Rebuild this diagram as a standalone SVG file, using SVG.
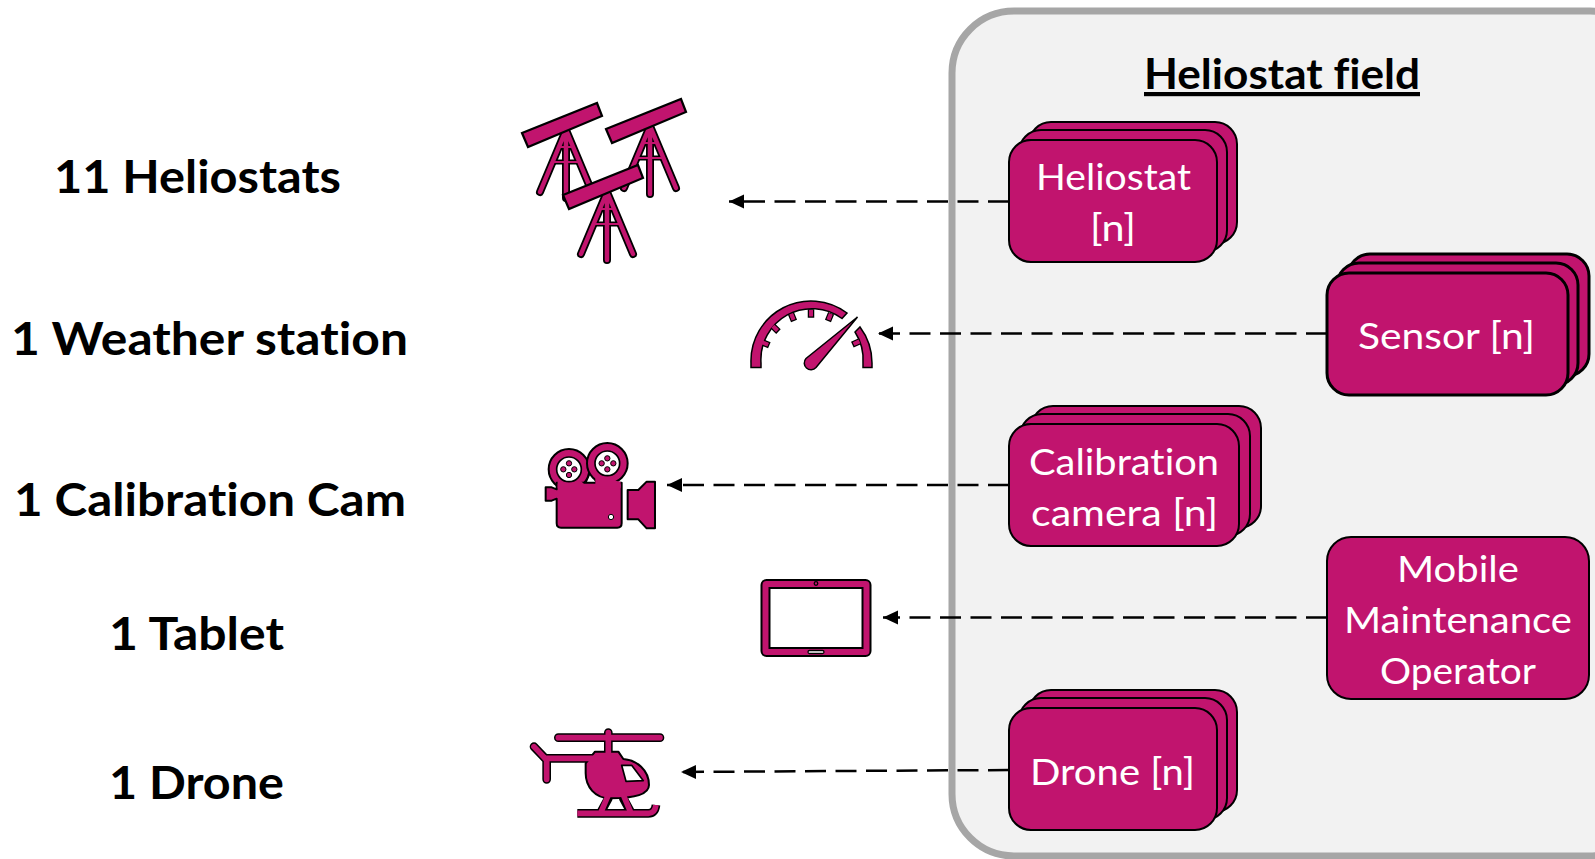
<svg xmlns="http://www.w3.org/2000/svg" width="1595" height="859" viewBox="0 0 1595 859">
<style>
text{font-family:Lato,"Open Sans","Liberation Sans",sans-serif;font-variant-ligatures:none}
.lbl{font-weight:700;font-size:46px;fill:#000}
.nt{font-size:37px;fill:#fff;text-anchor:start}
.box{fill:#c1146e;stroke:#000;stroke-width:2}
.box3{fill:#c1146e;stroke:#000;stroke-width:3}
.conn{fill:none;stroke:#000;stroke-width:2.5;stroke-dasharray:21 9.5}
.ic{fill:#c1146e;stroke:#000;stroke-width:6;stroke-linejoin:round}
.wht{fill:#fff;stroke:#000;stroke-width:5}
</style>
<defs>
<marker id="ah" markerUnits="userSpaceOnUse" markerWidth="17" markerHeight="17" refX="16" refY="8.500" orient="auto"><path d="M16 8.500L1 1.500V15.500Z" fill="#000"/></marker>
<g id="helio">
<path d="M-8 17H8M-14 32H14" fill="none" stroke="#000" stroke-width="5"/>
<path d="M0 0L-26 62M0 0L0 68M0 0L26 62" fill="none" stroke="#000" stroke-width="8" stroke-linecap="round"/>
<path d="M0 0L-26 62M0 0L0 68M0 0L26 62" fill="none" stroke="#c1146e" stroke-width="4.500" stroke-linecap="round"/>
<path d="M-8 17H8M-14 32H14" fill="none" stroke="#c1146e" stroke-width="2"/>
<path d="M-44 3L31 -27L36 -14L-38 17Z" fill="#c1146e" stroke="#000" stroke-width="2.200"/>
</g>
</defs>

<rect id="field" x="952" y="11" width="700" height="845" rx="62" fill="#f2f2f2" stroke="#a6a6a6" stroke-width="7"/>
<text id="field-title" x="1144" y="89" font-size="42" font-weight="700" fill="#000" text-decoration="underline" textLength="276" lengthAdjust="spacingAndGlyphs">Heliostat field</text>

<g id="connectors">
<path class="conn" marker-end="url(#ah)" d="M1009 201.500H729"/>
<path class="conn" marker-end="url(#ah)" d="M1327 333.500H878"/>
<path class="conn" marker-end="url(#ah)" d="M1009 485H667"/>
<path class="conn" marker-end="url(#ah)" d="M1327 617.500H883"/>
<path class="conn" marker-end="url(#ah)" d="M1009 770L681 772"/>
</g>

<g id="label-heliostats"><text class="lbl" x="54" y="193" textLength="287" lengthAdjust="spacingAndGlyphs">11 Heliostats</text></g>
<g id="label-weather"><text class="lbl" x="11" y="354.500" textLength="397" lengthAdjust="spacingAndGlyphs">1 Weather station</text></g>
<g id="label-cam"><text class="lbl" x="14" y="516" textLength="392" lengthAdjust="spacingAndGlyphs">1 Calibration Cam</text></g>
<g id="label-tablet"><text class="lbl" x="109" y="650" textLength="175" lengthAdjust="spacingAndGlyphs">1 Tablet</text></g>
<g id="label-drone"><text class="lbl" x="109" y="799" textLength="175" lengthAdjust="spacingAndGlyphs">1 Drone</text></g>

<g id="icon-heliostats">
<use href="#helio" x="566" y="130"/>
<use href="#helio" x="650" y="126"/>
<use href="#helio" x="607" y="192"/>
</g>

<g id="icon-gauge">
<g fill="#c1146e" stroke="#000" stroke-width="1.500">
<rect x="-2.500" y="-53" width="5" height="7" transform="translate(811 363) rotate(-67)"/>
<rect x="-2.500" y="-53" width="5" height="7" transform="translate(811 363) rotate(-46)"/>
<rect x="-2.500" y="-53" width="5" height="7" transform="translate(811 363) rotate(-22)"/>
<rect x="-2.500" y="-53" width="5" height="7" transform="translate(811 363) rotate(0)"/>
<rect x="-2.500" y="-53" width="5" height="7" transform="translate(811 363) rotate(22)"/>
<rect x="-2.500" y="-53" width="5" height="7" transform="translate(811 363) rotate(66)"/>
<path d="M751 367.500V363A60 60 0 0 1 847 313L842 318.500A51 51 0 0 0 761 363V367.500Z"/>
<path d="M860 327A60 60 0 0 1 872 363V367.500H863V363A51 51 0 0 0 855 332Z"/>
<path d="M857.500 317L816 367.500A6.500 6.500 0 1 1 806 358.500Z"/>
</g>
<g fill="#c1146e">
<rect x="-2" y="-53" width="4" height="6.300" transform="translate(811 363) rotate(-67)"/>
<rect x="-2" y="-53" width="4" height="6.300" transform="translate(811 363) rotate(-46)"/>
<rect x="-2" y="-53" width="4" height="6.300" transform="translate(811 363) rotate(-22)"/>
<rect x="-2" y="-53" width="4" height="6.300" transform="translate(811 363) rotate(0)"/>
<rect x="-2" y="-53" width="4" height="6.300" transform="translate(811 363) rotate(22)"/>
<rect x="-2" y="-53" width="4" height="6.300" transform="translate(811 363) rotate(66)"/>
</g>
</g>

<g id="icon-camera" transform="translate(530 430) scale(.3333)">
<path d="M167 160L182 125L200 160Z" fill="#fff" stroke="#000" stroke-width="4"/>
<circle class="ic" cx="117" cy="118" r="61"/>
<circle class="ic" cx="232" cy="100" r="61"/>
<path class="ic" d="M47 172H65L80 178V158H275V280Q275 293 262 293H93Q80 293 80 280V206L65 212H47Z"/>
<path d="M83 150H150L165 165H272V175H83Z" fill="#c1146e"/>
<path d="M196 140L272 155V170H196Z" fill="#c1146e"/>
<path class="ic" d="M293 180H325L350 155H375V295H350L325 268H293Z"/>
<circle class="wht" cx="117" cy="118" r="37"/>
<circle class="wht" cx="232" cy="100" r="37"/>
<g fill="#c1146e" stroke="#000" stroke-width="3">
<circle cx="117" cy="100" r="8"/><circle cx="100" cy="118" r="8"/><circle cx="133" cy="118" r="8"/><circle cx="117" cy="135" r="8"/>
<circle cx="232" cy="85" r="8"/><circle cx="215" cy="100" r="8"/><circle cx="250" cy="100" r="8"/><circle cx="232" cy="118" r="8"/>
</g>
<circle cx="243" cy="261" r="8" fill="#fff" stroke="#000" stroke-width="3"/>
</g>

<g id="icon-tablet">
<rect x="761.500" y="580" width="109" height="76" rx="5" fill="#c1146e" stroke="#000" stroke-width="2"/>
<rect x="769.500" y="588" width="93" height="60" fill="#fff" stroke="#000" stroke-width="2"/>
<circle cx="816" cy="583.500" r="1.800" fill="#c1146e" stroke="#000" stroke-width="1.300"/>
<rect x="808" y="650.500" width="16" height="3" rx="1.500" fill="#fff" stroke="#000" stroke-width="1.300"/>
</g>

<g id="icon-drone" transform="translate(520 720) scale(.3333)">
<g fill="none" stroke="#000" stroke-linecap="round" stroke-linejoin="round" stroke-width="26">
<path d="M115 53H420M265 38V100M42 80L78 118M80 115H220M80 115V178M265 235L245 272M310 235L330 272"/>
<path d="M172 280H385Q405 280 408 255" stroke-linecap="butt"/>
</g>
<path class="ic" d="M225 95H295L310 117C350 120 387 150 387 195C387 225 340 235 270 235C225 235 197 200 197 160V130Z"/>
<g fill="none" stroke="#c1146e" stroke-linecap="round" stroke-linejoin="round" stroke-width="17">
<path d="M115 53H420M265 38V110M42 80L78 118M80 115H225M80 115V178M265 225L245 272M310 225L330 272"/>
<path d="M172 280H385Q405 280 408 255" stroke-linecap="butt"/>
</g>
<path d="M305 136H335L370 182L318 184Z" fill="#fff" stroke="#000" stroke-width="5" stroke-linejoin="round"/>
</g>

<g id="node-heliostat">
<rect class="box" x="1029" y="122" width="208" height="122" rx="22"/>
<rect class="box" x="1019" y="130" width="208" height="122" rx="22"/>
<rect class="box" x="1009" y="140" width="208" height="122" rx="22"/>
<text class="nt" x="1036" y="190" textLength="155" lengthAdjust="spacingAndGlyphs">Heliostat</text>
<text class="nt" x="1090" y="241" textLength="46" lengthAdjust="spacingAndGlyphs">[n]</text>
</g>

<g id="node-sensor">
<rect class="box3" x="1348" y="254" width="241" height="122" rx="22"/>
<rect class="box3" x="1337" y="263" width="241" height="122" rx="22"/>
<rect class="box3" x="1327" y="273" width="241" height="122" rx="22"/>
<text class="nt" x="1358" y="349" textLength="177" lengthAdjust="spacingAndGlyphs">Sensor [n]</text>
</g>

<g id="node-calibration">
<rect class="box" x="1031" y="406" width="230" height="122" rx="22"/>
<rect class="box" x="1020" y="414" width="230" height="122" rx="22"/>
<rect class="box" x="1009" y="424" width="230" height="122" rx="22"/>
<text class="nt" x="1029" y="475" textLength="190" lengthAdjust="spacingAndGlyphs">Calibration</text>
<text class="nt" x="1031" y="526" textLength="187" lengthAdjust="spacingAndGlyphs">camera [n]</text>
</g>

<g id="node-operator">
<rect class="box" x="1327" y="537" width="262" height="162" rx="24"/>
<text class="nt" x="1397" y="582" textLength="122" lengthAdjust="spacingAndGlyphs">Mobile</text>
<text class="nt" x="1344" y="633" textLength="228" lengthAdjust="spacingAndGlyphs">Maintenance</text>
<text class="nt" x="1380" y="684" textLength="156" lengthAdjust="spacingAndGlyphs">Operator</text>
</g>

<g id="node-drone">
<rect class="box" x="1029" y="690" width="208" height="122" rx="22"/>
<rect class="box" x="1019" y="698" width="208" height="122" rx="22"/>
<rect class="box" x="1009" y="708" width="208" height="122" rx="22"/>
<text class="nt" x="1030" y="785" textLength="165" lengthAdjust="spacingAndGlyphs">Drone [n]</text>
</g>
</svg>
